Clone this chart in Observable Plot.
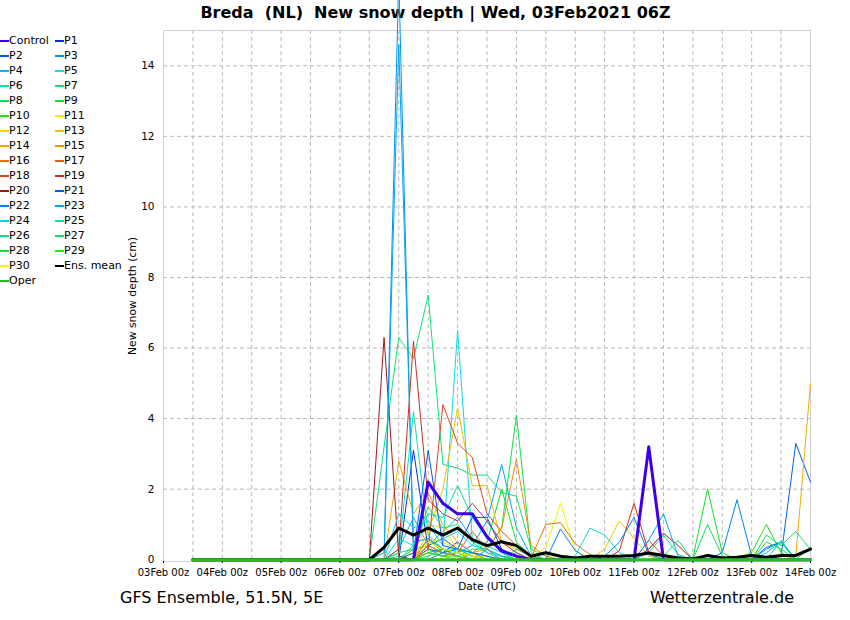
<!DOCTYPE html>
<html>
<head>
<meta charset="utf-8">
<script src="https://cdn.jsdelivr.net/npm/d3@7"></script>
<script src="https://cdn.jsdelivr.net/npm/@observablehq/plot@0.6"></script>
<style>
  body { margin: 0; background: white; }
  #wrap { position: relative; width: 850px; height: 620px; background: white; font-family: "DejaVu Sans", sans-serif; overflow: hidden; }
  #title { position: absolute; top: 3px; left: 0; width: 871px; text-align: center; font-weight: bold; font-size: 16px; line-height: 19px; white-space: pre; }
  #chart { position: absolute; top: 0; left: 0; }
  .leg { position: absolute; font-size: 11px; line-height: 14px; white-space: nowrap; color: #000; }
  .sw { position: absolute; height: 2px; }
  #foot1 { position: absolute; left: 120px; top: 588px; font-size: 16px; line-height: 20px; }
  #foot2 { position: absolute; right: 56px; top: 588px; font-size: 16px; line-height: 20px; }
</style>
</head>
<body>
<div id="wrap">
  <div id="title">Breda  (NL)  New snow depth | Wed, 03Feb2021 06Z</div>
  <div id="chart"></div>
  <div id="legend"></div>
  <div id="foot1">GFS Ensemble, 51.5N, 5E</div>
  <div id="foot2">Wetterzentrale.de</div>
</div>
<script>
// ---- data: 6-hourly steps from 03Feb2021 12z to 14Feb2021 00z (43 steps) ----
const seriesNames = ["Control","P1","P2","P3","P4","P5","P6","P7","P8","P9","P10",
  "P11","P12","P13","P14","P15","P16","P17","P18","P19","P20",
  "P21","P22","P23","P24","P25","P26","P27","P28","P29","P30","Oper"];

const seriesColors = ["#3c00e8","#0030e8","#0060ec","#0090f0","#10b4f0","#10d8e8","#10e0a8","#10e078","#10e050","#10e030","#20e010",
  "#f0f000","#f0d800","#f0c000","#f0a800","#f09000","#e07800","#e06010","#d84820","#c83020","#a01818",
  "#0058f0","#0080f0","#00a8f0","#00d0f0","#00e0a0","#10e070","#10e060","#10e040","#20f010","#f8f800","#20c020"];

const Control = [0,0,0,0,0,0,0,0,0,0,0,0, 0,0,0,0, 2.2,1.6,1.3,1.3, 0.65,0.25,0.1,0, 0,0,0,0, 0,0,0,3.2, 0,0,0,0, 0,0,0,0, 0,0,0];
const P1  = [0,0,0,0,0,0,0,0,0,0,0,0, 0,0,0,3.1, 0.3,0.2,0.5,0.2, 0.1,0,0,0, 0,0,0,0, 0,0,0,0, 0,0,0,0, 0,0,0,0, 0,0,0];
const P2  = [0,0,0,0,0,0,0,0,0,0,0,0, 0,0,0,0, 0.4,0.6,0.3,0.2, 0,0,0,0, 0,0,0,0, 0,0,0,0, 0,0,0,0, 0,0,0,0, 0.1,3.3,2.2];
const P3  = [0,0,0,0,0,0,0,0,0,0,0,0, 0,0,16.5,0, 0.2,0.3,0.1,0, 0.3,0,0,0, 0,0,0,0, 0,0,0,0, 0,0,0,0, 0,0,0,0.3, 0.5,0,0];
const P4  = [0,0,0,0,0,0,0,0,0,0,0,0, 0,0,0.3,1.2, 0.4,0.8,1.2,0.6, 0.4,0.2,0,0, 0,0,0,0, 0,0,0,0, 0,0,0,0, 0,0,0,0, 0,0,0];
const P5  = [0,0,0,0,0,0,0,0,0,0,0,0, 0,0,0.6,0.4, 1.0,0.4,6.5,0.6, 0.2,0.1,0,0, 0,0,0.1,0.9, 0.7,0.2,0,0, 0,0,0,0, 0,0,0,0, 0,0,0];
const P6  = [0,0,0,0,0,0,0,0,0,0,0,0, 0,0,0.2,4.2, 0.7,0.3,0.3,0.1, 0,0,0,0, 0,0,0,0, 0,0,0,0, 0,0,0,0, 0,0,0,0, 0,0,0];
const P7  = [0,0,0,0,0,0,0,0,0,0,0,0, 0,3.2,6.3,5.7, 7.5,2.7,2.6,2.4, 2.4,1.9,1.8,0.3, 0.1,0,0,0, 0,0,0,0, 0,0,0,0, 0,0,0,0, 0,0,0];
const P8  = [0,0,0,0,0,0,0,0,0,0,0,0, 0,0,0.1,0, 0.6,0.2,0.1,0.3, 0.3,0.9,4.1,0.2, 0,0,0,0, 0,0,0,0, 0,0,0,1.0, 0.1,0,0,0, 0,0,0];
const P9  = [0,0,0,0,0,0,0,0,0,0,0,0, 0,0,0,0.3, 0.4,0.2,0.3,0.2, 0.5,2.0,0.5,0.1, 0,0,0,0, 0,0,0,0, 0,0,0.05,2.0, 0.2,0,0,0, 0,0,0];
const P10 = [0,0,0,0,0,0,0,0,0,0,0,0, 0,0,0,0, 0.3,0.1,0.2,0, 0,0,0.2,0, 0,0,0,0, 0,0,0,0, 0,0,0,0, 0,0,0.2,1.0, 0.2,0,0];
const P11 = [0,0,0,0,0,0,0,0,0,0,0,0, 0,0,0,0, 0.6,0.5,0.3,0.1, 0,0,0,0.1, 0.35,1.6,0.25,0, 0,0,0,0, 0,0,0,0, 0,0,0.25,0, 0,0,0];
const P12 = [0,0,0,0,0,0,0,0,0,0,0,0, 0,0,0,0.2, 1.0,0.9,0.3,0.1, 0.1,0,0,0, 0,0,0,0, 0,0,0,0, 0,0,0,0, 0,0,0,0, 0,0,0];
const P13 = [0,0,0,0,0,0,0,0,0,0,0,0, 0,0,0,0, 0.8,2.0,4.3,2.1, 2.1,0.5,0.3,0.1, 0,0,0,0, 0.3,1.1,0.6,0.1, 0,0,0,0, 0,0,0,0, 0,0,0];
const P14 = [0,0,0,0,0,0,0,0,0,0,0,0, 0,0,2.8,1.3, 1.9,1.0,0.5,0.2, 0,0,0,0, 0,0,0,0, 0,0,0,0, 0,0,0,0, 0,0,0,0, 0,0.1,5.0];
const P15 = [0,0,0,0,0,0,0,0,0,0,0,0, 0,0,0,0, 0.2,0.1,0,0.2, 0.3,0.9,2.85,0.4, 0.1,0,0,0, 0,0,0,0, 0,0,0,0.15, 0,0,0.1,0, 0,0,0];
const P16 = [0,0,0,0,0,0,0,0,0,0,0,0, 0,0,0,0, 0.4,0.2,0.1,0, 0,0,0,0.05, 1.0,1.05,0.45,0.15, 0,0,0,0, 0,0,0,0, 0,0,0,0, 0,0,0];
const P17 = [0,0,0,0,0,0,0,0,0,0,0,0, 0,0,0,0, 0.6,0.3,0.2,0.8, 0.3,0.1,0,0, 0,0,0,0, 0,0,0,0, 0,0,0,0, 0,0,0,0, 0,0,0];
const P18 = [0,0,0,0,0,0,0,0,0,0,0,0, 0,0,0,0, 0.3,4.4,3.3,2.9, 1.3,0.8,0.4,0.1, 0,0,0,0, 0,0,0,0.55, 0.1,0,0,0, 0,0,0,0, 0,0,0];
const P19 = [0,0,0,0,0,0,0,0,0,0,0,0, 0,0,0.3,6.2, 1.7,1.3,1.1,1.6, 1.1,0.5,0.2,0, 0,0,0,0, 0,0.25,1.6,0.2, 0,0,0,0, 0,0,0,0, 0,0,0];
const P20 = [0,0,0,0,0,0,0,0,0,0,0,0, 0,6.3,0.1,0, 0,0,0,0, 0,0,0,0, 0,0,0,0, 0,0,0,0.3, 0.75,0.4,0,0, 0,0,0,0, 0,0,0];
const P21 = [0,0,0,0,0,0,0,0,0,0,0,0, 0,0,0,0.2, 3.1,0.4,0.3,1.2, 1.2,0.3,0.1,0, 0,0,0,0, 0,0,0,0, 0,0,0,0, 0,0,0,0.35, 0.5,0,0];
const P22 = [0,0,0,0,0,0,0,0,0,0,0,0, 0,0,0,0, 0,0.2,0.3,0.2, 0.1,0,0,0, 0,0.87,0.26,0, 0.1,0.5,1.2,0.15, 0,0,0,0, 0.2,1.7,0.1,0, 0,0,0];
const P23 = [0,0,0,0,0,0,0,0,0,0,0,0, 0,0.2,14.6,0.5, 0.6,0.3,0.2,0.4, 1.1,2.7,0.9,0.1, 0,0,0,0, 0,0,0,0.55, 1.3,0.1,0,0, 0,0,0,0, 0,0,0];
const P24 = [0,0,0,0,0,0,0,0,0,0,0,0, 0,0,1.3,0.9, 1.1,0.6,0.8,0.4, 0.3,0.1,0,0, 0,0,0,0, 0,0,0,0, 0,0,0,0, 0,0,0,0.2, 0.5,0,0];
const P25 = [0,0,0,0,0,0,0,0,0,0,0,0, 0,0,0,0.4, 1.3,1.2,2.1,1.2, 0.6,0.2,0,0, 0,0,0,0, 0,0,0,0.2, 0.7,0.15,0,0, 0,0,0,0, 0.55,0,0];
const P26 = [0,0,0,0,0,0,0,0,0,0,0,0, 0,0,0.2,0.3, 1.5,0.9,1.0,0.5, 0.2,0,0,0, 0,0,0,0, 0,0,0,0, 0.1,0.55,0,0, 0,0,0,0, 0,0,0];
const P27 = [0,0,0,0,0,0,0,0,0,0,0,0, 0,0,0,0, 0.2,0.1,0.3,0.1, 0,0,0,0, 0,0,0,0, 0,0,0,0, 0,0,0,0, 0,0,0,0.7, 0.4,0.8,0.3];
const P28 = [0,0,0,0,0,0,0,0,0,0,0,0, 0,0,0,0, 0.1,0.3,0.2,0.1, 0,0,0.3,0.1, 0,0,0,0, 0,0,0,0, 0,0,0,0, 0,0,0,0.5, 0.3,0,0.35];
const P29 = [0,0,0,0,0,0,0,0,0,0,0,0, 0,0,0,0, 0.2,0.1,0.1,0, 0,0,0,0, 0,0,0,0, 0,0,0,0, 0,0,0,0, 0,0,0,0, 0,0,0];
const P30 = [0,0,0,0,0,0,0,0,0,0,0,0, 0,0,0,0, 0.5,0.3,0.2,0.1, 0,0,0,0, 0,0,0,0, 0,0,0,0, 0,0,0,0, 0,0,0,0, 0,0,0];
const Oper = [0,0,0,0,0,0,0,0,0,0,0,0, 0,0,0,0, 0,0,0,0, 0,0,0,0, 0,0,0,0, 0,0,0,0, 0,0,0,0, 0,0,0,0, 0,0,0];
const EnsMean = [0,0,0,0,0,0,0,0,0,0,0,0, 0,0.35,0.9,0.7, 0.9,0.7,0.9,0.57, 0.4,0.51,0.4,0.1, 0.2,0.1,0.05,0.1, 0.1,0.1,0.12,0.19, 0.12,0.05,0.02,0.12, 0.05,0.07,0.12,0.07, 0.12,0.12,0.3];

const seriesValues = [Control,P1,P2,P3,P4,P5,P6,P7,P8,P9,P10,P11,P12,P13,P14,P15,P16,P17,P18,P19,P20,
  P21,P22,P23,P24,P25,P26,P27,P28,P29,P30,Oper];

const yTicks = [0,2,4,6,8,10,12,14];
const startTime = new Date(Date.UTC(2021,1,3,12));
const endTime = new Date(Date.UTC(2021,1,14,0));
const times = d3.utcHour.every(6).range(startTime, new Date(+endTime + 1));
const dayTicks = d3.utcDay.range(new Date(Date.UTC(2021,1,3,0)), new Date(+endTime + 1));
const gridTimes = d3.utcHour.every(12).range(startTime, endTime);

// ---- chart ----
function rows(vals) { return vals.map((v, i) => ({t: times[i], v})); }

const memberMarks = [];
for (let s = 1; s <= 30; s++) {
  memberMarks.push(Plot.line(rows(seriesValues[s]), {x: "t", y: "v", stroke: seriesColors[s], strokeWidth: 1}));
}

const chart = Plot.plot({
  width: 850,
  height: 600,
  marginLeft: 163,
  marginRight: 40,
  marginTop: 30,
  marginBottom: 39,
  style: {fontFamily: "DejaVu Sans", fontSize: "10px", background: "transparent", overflow: "visible"},
  x: {type: "utc", domain: [new Date(Date.UTC(2021,1,3,0)), endTime]},
  y: {domain: [-0.05, 15]},
  marks: [
    Plot.ruleX(gridTimes, {stroke: "#b8b8b8", strokeDasharray: "4,3"}),
    Plot.ruleY(yTicks.filter(d => d > 0), {stroke: "#b8b8b8", strokeDasharray: "4,3"}),
    Plot.frame({stroke: "#d0d0d0"}),
    Plot.axisX({ticks: dayTicks, tickFormat: d3.utcFormat("%d%b %Hz"), tickSize: 2, tickPadding: 5, label: null, fontSize: 10}),
    Plot.axisY({ticks: yTicks, tickSize: 0, tickPadding: 9, label: null, fontSize: 10.5}),
    Plot.text(["New snow depth (cm)"], {text: d => d, frameAnchor: "left", textAnchor: "middle", rotate: -90, dx: -31, fontSize: 10.8}),
    Plot.text(["Date (UTC)"], {text: d => d, frameAnchor: "bottom", textAnchor: "middle", dy: 28, fontSize: 10.5}),
    ...memberMarks,
    Plot.line(rows(Control), {x: "t", y: "v", stroke: seriesColors[0], strokeWidth: 3}),
    Plot.line(rows(EnsMean), {x: "t", y: "v", stroke: "#000", strokeWidth: 3}),
    Plot.line(rows(Oper), {x: "t", y: "v", stroke: seriesColors[31], strokeWidth: 3})
  ]
});
document.getElementById("chart").appendChild(chart);

// ---- legend ----
const legendItems = [];
for (let s = 0; s <= 30; s++) legendItems.push({name: seriesNames[s], color: seriesColors[s]});
legendItems.push({name: "Ens. mean", color: "#000"});
legendItems.push({name: "Oper", color: seriesColors[31]});
const leg = document.getElementById("legend");
legendItems.forEach((it, k) => {
  const row = Math.floor(k / 2), col = k % 2;
  const cy = 40.5 + row * 15;
  const sx = col === 0 ? 0 : 55;
  const sw = document.createElement("div");
  sw.className = "sw";
  sw.style.left = sx + "px";
  sw.style.width = "9px";
  sw.style.top = (cy - 1) + "px";
  sw.style.background = it.color;
  leg.appendChild(sw);
  const tx = document.createElement("div");
  tx.className = "leg";
  tx.style.left = (sx + 9) + "px";
  tx.style.top = (cy - 7) + "px";
  tx.textContent = it.name;
  leg.appendChild(tx);
});
</script>
</body>
</html>
